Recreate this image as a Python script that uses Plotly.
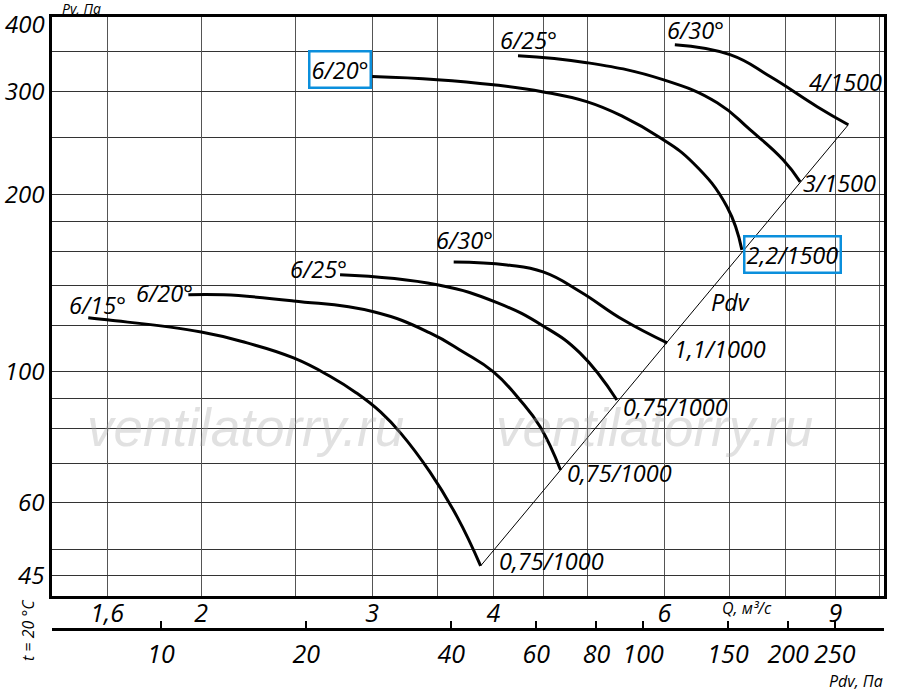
import numpy as np
import plotly.graph_objects as go

# Q, м³/с and Pv, Па (one list per curve)
q_615 = [1.53, 1.60, 2.0, 2.23, 2.49, 2.72, 2.89, 3.06, 3.21, 3.44, 3.67, 3.88]
pv_615 = [123.6, 122.6, 116.9, 112.0, 105.6, 98.1, 92.1, 85.5, 78.7, 67.6, 56.7, 46.8]

q_620a = [1.94, 2.11, 2.49, 3.01, 3.44, 3.72, 4.0, 4.26, 4.47, 4.69]
pv_620a = [135.2, 135.2, 132.0, 126.5, 116.5, 108.2, 100.0, 89.6, 80.6, 68.1]

q_625a = [2.78, 3.5, 4.04, 4.5, 4.91, 5.36]
pv_625a = [146.2, 140.6, 131.0, 119.7, 107.7, 89.6]

q_630a = [3.64, 4.13, 4.5, 4.91, 5.44, 6.04]
pv_630a = [153.8, 152.0, 147.9, 137.0, 122.6, 112.0]

q_620b = [3.0, 3.5, 4.0, 4.49, 4.99, 5.44, 5.94, 6.42, 6.96, 7.21]
pv_620b = [317.6, 313.8, 307.6, 299.4, 287.9, 271.5, 250.0, 226.7, 190.8, 161.2]

q_625b = [4.24, 4.99, 5.98, 6.80, 7.35, 7.95, 8.28]
pv_625b = [344.6, 335.4, 313.8, 286.7, 258.0, 229.4, 210.4]

q_630b = [6.15, 7.01, 7.71, 8.62, 9.28]
pv_630b = [359.8, 346.0, 317.6, 282.3, 263.0]

# Pv = Pdv line through the curve ends
q_pdv = [3.88, 9.28]
pv_pdv = [46.8, 263.0]

blade_labels = ["6/15°", "6/20°", "6/25°", "6/30°", "6/20°", "6/25°", "6/30°"]
motor_labels = ["0,75/1000", "0,75/1000", "0,75/1000", "1,1/1000", "2,2/1500", "3/1500", "4/1500"]

q_ticks = [1.6, 2, 3, 4, 6, 9]
q_ticktext = ["1,6", "2", "3", "4", "6", "9"]
q_grid = [2.5, 3.5, 4.5, 5, 7, 8, 10]
pv_ticks = [45, 60, 100, 200, 300]
pv_top = 400
pv_grid = [50, 70, 80, 90, 120, 140, 160, 180, 250, 350]
pdv_ticks = [10, 20, 40, 60, 80, 100, 150, 200, 250]

curves = [
    (q_615, pv_615), (q_620a, pv_620a), (q_625a, pv_625a), (q_630a, pv_630a),
    (q_620b, pv_620b), (q_625b, pv_625b), (q_630b, pv_630b),
]
# label offsets in px: (start xshift, start yshift, end xshift, end yshift)
offsets = [
    (39, 13, 17, 5), (6, 2, 5, -3), (8, 6, 5, -7), (40, 22, 6, -6),
    (0, 7, 1, -5), (40, 16, 2, -1), (50, 15, -40, 43),
]
boxed = [False, False, False, False, True, False, False]

BLUE = "#0b8fdc"
FONT = "Open Sans"
LBL = 23.5
TICK = 25
YTICK = 24

fig = go.Figure()
for q, pv in curves:
    fig.add_trace(go.Scatter(x=q, y=pv, mode="lines",
                             line=dict(color="black", width=3, shape="spline", smoothing=1.3),
                             showlegend=False, hoverinfo="skip"))
fig.add_trace(go.Scatter(x=q_pdv, y=pv_pdv, mode="lines", line=dict(color="black", width=1),
                         showlegend=False, hoverinfo="skip"))
# carrier for the Pdv scale
fig.add_trace(go.Scatter(x=pdv_ticks, y=[None] * len(pdv_ticks), xaxis="x2", mode="markers",
                         showlegend=False, hoverinfo="skip"))

for i, (q, pv) in enumerate(curves):
    sx, sy, ex, ey = offsets[i]
    box = dict(bordercolor=BLUE, borderwidth=2.5) if boxed[i] else dict(borderwidth=0)
    fig.add_annotation(x=np.log10(q[0]), y=np.log10(pv[0]), text=blade_labels[i], showarrow=False,
                       xanchor="right", yanchor="middle", xshift=sx, yshift=sy,
                       font=dict(size=LBL), borderpad=1, **box)
    fig.add_annotation(x=np.log10(q[-1]), y=np.log10(pv[-1]), text=motor_labels[i], showarrow=False,
                       xanchor="left", yanchor="middle", xshift=ex, yshift=ey,
                       font=dict(size=LBL), borderpad=1, **box)

# top tick label sits a little lower than its line, as in the original
fig.add_annotation(x=-0.006, y=np.log10(pv_top), xref="paper", yref="y", text=str(pv_top),
                   showarrow=False, xanchor="right", yanchor="middle", yshift=-6,
                   font=dict(size=YTICK))

paper_labels = [
    ("Pv, Па", 0.035, 1.0135, 14, 0),
    ("Q, м³/с", 0.835, 0.034, 16, 0),
    ("Pdv, Па", 0.966, -0.085, 16, 0),
    ("t = 20 °C", -0.029, -0.002, 16, -90),
    ("Pdv", 0.815, 0.534, LBL, 0),
]
for txt, x, y, size, ang in paper_labels:
    fig.add_annotation(x=x, y=y, xref="paper", yref="paper", text=txt, showarrow=False,
                       xanchor="center", yanchor="middle", textangle=ang, font=dict(size=size))

for x in [0.232, 0.724]:
    fig.add_annotation(x=x, y=0.330, xref="paper", yref="paper", text="ventilatorry.ru",
                       showarrow=False, xanchor="center", yanchor="middle",
                       font=dict(family="Liberation Sans", size=53, color="rgba(170,170,170,0.35)"))

fig.update_layout(
    width=900, height=694,
    margin=dict(l=52, r=16, t=17, b=65, autoexpand=False),
    paper_bgcolor="white", plot_bgcolor="white",
    font=dict(family=FONT, style="italic", color="black", size=LBL),
    xaxis=dict(type="log", range=[np.log10(1.404), np.log10(10.1)],
               tickvals=q_ticks, ticktext=q_ticktext, ticks="", ticklen=0,
               ticklabelstandoff=-7,
               showgrid=True, gridcolor="#555", gridwidth=1.2,
               minor=dict(tickvals=q_grid, showgrid=True, gridcolor="#555", gridwidth=1.2,
                          ticks="", ticklen=0),
               showline=True, mirror=True, linecolor="black", linewidth=2.5,
               tickfont=dict(size=TICK), zeroline=False, automargin=False),
    yaxis=dict(type="log", range=[np.log10(41.6), np.log10(401)], domain=[0.0539, 1],
               tickvals=pv_ticks, ticks="", ticklen=0,
               showgrid=True, gridcolor="#333", gridwidth=1,
               minor=dict(tickvals=pv_grid, showgrid=True, gridcolor="#333", gridwidth=1,
                          ticks="", ticklen=0),
               showline=True, mirror=True, linecolor="black", linewidth=2.5,
               tickfont=dict(size=YTICK), zeroline=False, automargin=False),
    xaxis2=dict(type="log", overlaying="x", anchor="free", position=0, side="bottom",
                range=[np.log10(5.94), np.log10(316)],
                tickvals=pdv_ticks, ticks="inside", ticklen=7, tickwidth=1.5, tickcolor="black",
                ticklabelstandoff=2,
                showgrid=False, showline=True, linecolor="black", linewidth=2.5,
                tickfont=dict(size=TICK), zeroline=False, automargin=False),
)

# drop the browser's default 8px body margin so the figure fills the window
fig.write_html("out.html", config={"displayModeBar": False},
               post_script="document.body.style.margin = '0';")
